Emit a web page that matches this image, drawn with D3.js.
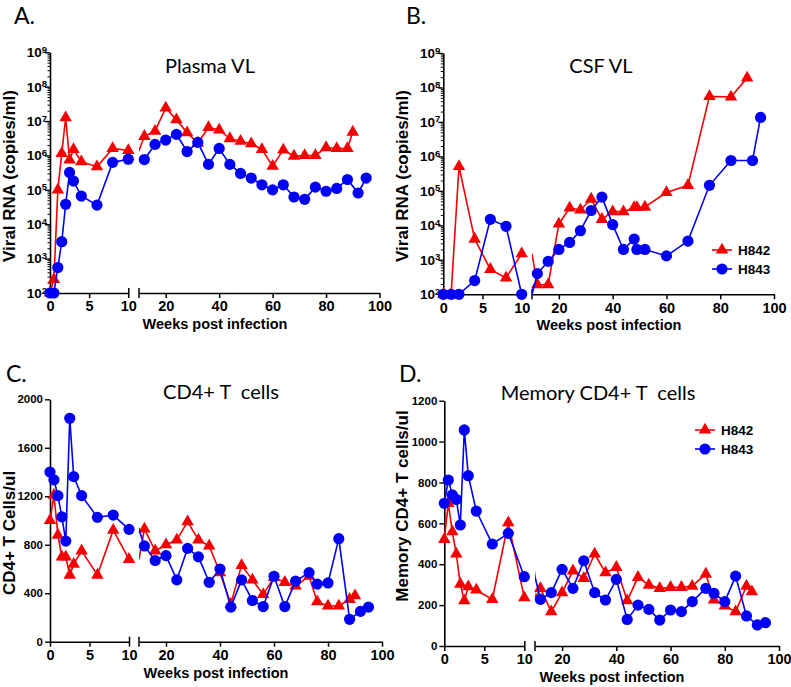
<!DOCTYPE html>
<html><head><meta charset="utf-8">
<script src="https://cdn.jsdelivr.net/npm/d3@7"></script>
<style>body{margin:0;background:#fff} svg{display:block}</style>
</head><body><svg id="chart" width="791" height="687"></svg>
<script>
// ---------------- DATA ----------------
const seriesNames = ["H842", "H843"];
const xTicksSeg1 = [0, 5, 10];
const xTicksSeg2 = [20, 40, 60, 80, 100];
const logTicks = [1e2, 1e3, 1e4, 1e5, 1e6, 1e7, 1e8, 1e9];
const cd4Ticks = [0, 400, 800, 1200, 1600, 2000];
const memTicks = [0, 200, 400, 600, 800, 1000, 1200];

// A. Plasma VL
const plasmaWeeksH842 = [0,0.5,1,1.5,2,2.5,3,4,6,8,10,12,16,20,24,28,32,36,40,44,48,52,56,60,64,68,72,76,80,84,88,90];
const plasmaH842 = [100,250,1e5,1.15e6,1.25e7,7.4e5,1.5e6,6.6e5,4.7e5,1.6e6,1.4e6,3.6e6,5.1e6,2.4e7,1.1e7,4.6e6,2.3e6,6.5e6,5.5e6,3.1e6,2.6e6,2.2e6,1.5e6,4.9e5,1.45e6,9.6e5,1e6,1e6,1.7e6,1.6e6,1.6e6,4.8e6];
const plasmaWeeksH843 = [0,0.5,1,1.5,2,2.5,3,4,6,8,10,12,16,20,24,28,32,36,40,44,48,52,56,60,64,68,72,76,80,84,88,92,95];
const plasmaH843 = [100,100,550,3.1e3,3.8e4,3.2e5,1.8e5,6.6e4,3.6e4,6.3e5,7.8e5,7.6e5,2.1e6,2.8e6,4.1e6,1.3e6,2.4e6,5.5e5,1.6e6,5.5e5,3e5,2.2e5,1.4e5,1e5,1.4e5,6.2e4,5.3e4,1.2e5,9.1e4,1.1e5,2e5,8.1e4,2.2e5];

// B. CSF VL
const csfWeeksH842 = [0,1,2,4,6,8,10,12,16,20,24,28,32,36,40,44,48,49,52,60,68,76,84,90];
const csfH842 = [100,100,5.1e5,4e3,5.3e2,3e2,1.5e3,190,190,1.1e4,3.2e4,2.8e4,5.8e4,1.5e4,2.5e4,2.5e4,3.3e4,3.3e4,3.4e4,9e4,1.45e5,5.5e7,5.3e7,1.9e8];
const csfWeeksH843 = [0,1,2,4,6,8,10,12,16,20,24,28,32,36,40,44,48,49,52,60,68,76,84,92,95];
const csfH843 = [100,100,100,250,1.5e4,9.4e3,100,400,900,2e3,3.2e3,7e3,2.7e4,6.6e4,1.05e4,2e3,4e3,2e3,2e3,1.3e3,3.5e3,1.45e5,7.6e5,7.6e5,1.35e7];

// C. CD4+ T cells
const cd4WeeksH842 = [0,0.5,1,1.5,2,2.5,3,4,6,8,10,12,16,20,24,28,32,36,40,44,48,52,56,60,64,68,73,76,80,84,88,90];
const cd4H842 = [1000,1210,880,700,700,550,640,750,550,920,680,930,750,800,840,990,840,790,570,310,630,510,390,530,490,460,540,330,295,295,350,380];
const cd4WeeksH843 = [0,0.5,1,1.5,2,2.5,3,4,6,8,10,12,16,20,24,28,32,36,40,44,48,52,56,60,64,68,73,76,80,84,88,92,95];
const cd4H843 = [1400,1335,1205,1030,830,1843,1362,1205,1026,1045,927,790,670,710,510,770,700,490,600,285,510,340,290,540,290,500,570,475,485,850,185,250,285];

// D. Memory CD4+ T cells
const memWeeksH842 = [0,0.5,1,1.5,2,2.5,3,4,6,8,10,12,16,20,24,28,32,36,40,44,48,52,56,60,64,68,73,76,80,84,88,90];
const memH842 = [522,698,559,450,303,222,290,274,228,603,236,282,168,261,368,331,450,359,385,222,336,298,282,287,287,293,352,225,196,168,293,266];
const memWeeksH843 = [0,0.5,1,1.5,2,2.5,3,4,6,8,10,12,16,20,24,28,32,36,40,44,48,52,56,60,64,68,73,76,80,84,88,92,95];
const memH843 = [698,812,739,717,592,1057,833,660,499,551,339,228,261,375,282,417,261,225,326,130,200,179,127,176,168,217,282,258,217,342,147,103,114];

// ---------------- DRAWING ----------------
const RED = "#f40000", BLUE = "#0000f4";
const AX = "Liberation Sans, Arial, sans-serif";
const TITLEF = "Lato, 'Open Sans', sans-serif";
const svg = d3.select("#chart");
let clipId = 0;

function tri(s) {
  const h = s * Math.sqrt(3) / 2;
  return `M0,${-2*h/3}L${s/2},${h/3}L${-s/2},${h/3}Z`;
}

function panel(cfg) {
  const g = svg.append("g");
  const xs1 = d3.scaleLinear().domain([0, 10]).range([cfg.x0, cfg.x1]);
  const xs2 = d3.scaleLinear().domain([10, 100]).range([cfg.x2, cfg.x3]);
  const y = cfg.log
    ? d3.scaleLog().domain([1e2, 1e9]).range([cfg.yBot, cfg.yTop])
    : d3.scaleLinear().domain([0, cfg.yTicks[cfg.yTicks.length - 1]]).range([cfg.yBot, cfg.yTop]);

  // clip paths
  const c1 = "clip" + (clipId++), c2 = "clip" + (clipId++);
  const defs = svg.append("defs");
  defs.append("clipPath").attr("id", c1).append("rect")
    .attr("x", cfg.x0 - 1).attr("y", 0).attr("width", cfg.x1 - cfg.x0 + 1).attr("height", 687);
  defs.append("clipPath").attr("id", c2).append("rect")
    .attr("x", cfg.x2).attr("y", 0).attr("width", 791 - cfg.x2).attr("height", 687);

  // x axis segment 1
  const ax1 = g.append("g").attr("transform", `translate(0,${cfg.yBot})`)
    .call(d3.axisBottom(xs1).tickValues(xTicksSeg1).tickSizeInner(5).tickSizeOuter(0).tickPadding(3));
  const ax2 = g.append("g").attr("transform", `translate(0,${cfg.yBot})`)
    .call(d3.axisBottom(xs2).tickValues(xTicksSeg2).tickSizeInner(5).tickSizeOuter(0).tickPadding(3));
  [ax1, ax2].forEach(a => {
    a.selectAll("path.domain").attr("stroke", "#000").attr("stroke-width", 1.6);
    a.selectAll(".tick line").attr("stroke", "#000").attr("stroke-width", 1.5);
    a.selectAll(".tick text").attr("font-family", AX).attr("font-weight", "bold")
      .attr("font-size", 14.5).attr("fill", "#000");
  });
  // segment end caps
  ax1.select(".tick:last-of-type line").attr("y1", -5).attr("y2", 5);
  ax2.append("line").attr("x1", cfg.x2).attr("x2", cfg.x2).attr("y1", -5).attr("y2", 5)
    .attr("stroke", "#000").attr("stroke-width", 1.5);

  // y axis
  const ay = g.append("g").attr("transform", `translate(${cfg.x0},0)`)
    .call(d3.axisLeft(y).tickValues(cfg.yTicks).tickSizeInner(5).tickSizeOuter(0).tickPadding(2)
      .tickFormat(cfg.log ? (() => "") : d3.format("d")));
  ay.selectAll("path.domain").attr("stroke", "#000").attr("stroke-width", 1.6);
  ay.selectAll(".tick line").attr("stroke", "#000").attr("stroke-width", 1.4);
  ay.selectAll(".tick text").attr("font-family", AX).attr("font-weight", "bold")
    .attr("font-size", cfg.log ? 13.5 : 11.5).attr("fill", "#000");
  if (cfg.log) {
    ay.selectAll(".tick text").each(function(d) {
      const t = d3.select(this);
      t.text(null).attr("x", -3);
      t.append("tspan").text("10");
      t.append("tspan").attr("dy", "-0.45em").attr("font-size", 9.5).text(Math.round(Math.log10(d)));
    });
    const minor = [];
    for (let e = 2; e < 9; e++) for (let m = 2; m <= 9; m++) minor.push(m * Math.pow(10, e));
    const am = g.append("g").attr("transform", `translate(${cfg.x0},0)`)
      .call(d3.axisLeft(y).tickValues(minor).tickSizeInner(2.5).tickSizeOuter(0).tickFormat(() => ""));
    am.select("path.domain").remove();
    am.selectAll(".tick line").attr("stroke", "#000").attr("stroke-width", 1);
  }

  // series
  const series = [
    {w: cfg.w842, v: cfg.v842, color: RED, shape: "tri"},
    {w: cfg.w843, v: cfg.v843, color: BLUE, shape: "circle"}
  ];
  series.forEach(s => {
    const pts = s.w.map((w, i) => ({w, v: s.v[i]}));
    const l1 = d3.line().x(d => xs1(d.w)).y(d => y(d.v));
    const l2 = d3.line().x(d => xs2(d.w)).y(d => y(d.v));
    g.append("path").attr("d", l1(pts)).attr("clip-path", `url(#${c1})`)
      .attr("fill", "none").attr("stroke", s.color).attr("stroke-width", 1.6);
    g.append("path").attr("d", l2(pts)).attr("clip-path", `url(#${c2})`)
      .attr("fill", "none").attr("stroke", s.color).attr("stroke-width", 1.6);
    const mk = g.append("g");
    pts.forEach(p => {
      const px = p.w <= 10 ? xs1(p.w) : xs2(p.w);
      if (s.shape === "tri") {
        mk.append("path").attr("d", tri(12.5)).attr("transform", `translate(${px},${y(p.v)})`).attr("fill", s.color);
      } else {
        mk.append("circle").attr("cx", px).attr("cy", y(p.v)).attr("r", 5.6).attr("fill", s.color);
      }
    });
  });

  // labels
  g.append("text").attr("x", cfg.letterX).attr("y", cfg.letterY).text(cfg.letter)
    .attr("font-family", TITLEF).attr("font-size", 23).attr("fill", "#000");
  g.append("text").attr("x", cfg.titleX).attr("y", cfg.titleY).attr("text-anchor", "middle")
    .text(cfg.title).attr("font-family", TITLEF).attr("font-size", 20).attr("fill", "#000")
    .style("white-space", "pre").attr("xml:space", "preserve");
  g.append("text").attr("x", cfg.xLabelX).attr("y", cfg.yBot + 36).attr("text-anchor", "middle")
    .text("Weeks post infection").attr("font-family", AX).attr("font-weight", "bold")
    .attr("font-size", 14.5).attr("fill", "#000");
  g.append("text").attr("transform", `translate(${cfg.yLabelX},${cfg.yLabelY}) rotate(-90)`)
    .attr("text-anchor", "middle").text(cfg.yLabel).attr("font-family", AX)
    .attr("font-weight", "bold").attr("font-size", 17).attr("fill", "#000");

  if (cfg.legend) {
    const L = cfg.legend;
    [[RED, "tri", seriesNames[0]], [BLUE, "circle", seriesNames[1]]].forEach((it, i) => {
      const ly = L.y + i * L.dy;
      g.append("line").attr("x1", L.x - 10).attr("x2", L.x + 10).attr("y1", ly).attr("y2", ly)
        .attr("stroke", it[0]).attr("stroke-width", 1.6);
      if (it[1] === "tri") g.append("path").attr("d", tri(12.5)).attr("transform", `translate(${L.x},${ly})`).attr("fill", it[0]);
      else g.append("circle").attr("cx", L.x).attr("cy", ly).attr("r", 5.6).attr("fill", it[0]);
      g.append("text").attr("x", L.x + 16).attr("y", ly + 5).text(it[2]).attr("font-family", AX)
        .attr("font-weight", "bold").attr("font-size", 13.5).attr("fill", "#000");
    });
  }
}

panel({letter: "A.", letterX: 14, letterY: 24, title: "Plasma VL", titleX: 210, titleY: 73,
  x0: 50, x1: 128.3, x2: 139, x3: 379.5, yTop: 52.3, yBot: 293, log: true, yTicks: logTicks,
  w842: plasmaWeeksH842, v842: plasmaH842, w843: plasmaWeeksH843, v843: plasmaH843,
  xLabelX: 215, yLabelX: 15, yLabelY: 176, yLabel: "Viral RNA (copies/ml)"});
panel({letter: "B.", letterX: 406, letterY: 24, title: "CSF VL", titleX: 601, titleY: 73,
  x0: 443.3, x1: 521.7, x2: 532, x3: 774, yTop: 53, yBot: 294.3, log: true, yTicks: logTicks,
  w842: csfWeeksH842, v842: csfH842, w843: csfWeeksH843, v843: csfH843,
  xLabelX: 609, yLabelX: 408, yLabelY: 176, yLabel: "Viral RNA (copies/ml)",
  legend: {x: 722, y: 250, dy: 19}});
panel({letter: "C.", letterX: 6, letterY: 382, title: "CD4+ T  cells", titleX: 221, titleY: 399,
  x0: 50, x1: 129, x2: 139, x3: 382, yTop: 399.3, yBot: 641.7, log: false, yTicks: cd4Ticks,
  w842: cd4WeeksH842, v842: cd4H842, w843: cd4WeeksH843, v843: cd4H843,
  xLabelX: 216, yLabelX: 15, yLabelY: 533, yLabel: "CD4+ T Cells/ul"});
panel({letter: "D.", letterX: 399, letterY: 382, title: "Memory CD4+ T  cells", titleX: 598, titleY: 400,
  x0: 444.3, x1: 524.3, x2: 535, x3: 779, yTop: 400.7, yBot: 646, log: false, yTicks: memTicks,
  w842: memWeeksH842, v842: memH842, w843: memWeeksH843, v843: memH843,
  xLabelX: 612, yLabelX: 408, yLabelY: 506, yLabel: "Memory CD4+ T cells/ul",
  legend: {x: 705, y: 430, dy: 19}});
</script></body></html>
